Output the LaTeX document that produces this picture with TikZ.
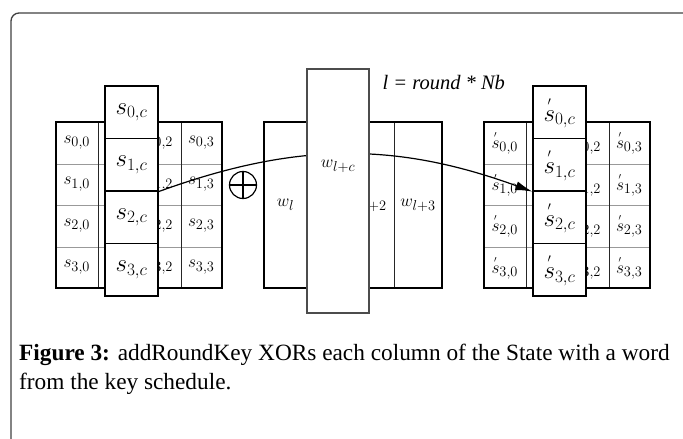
\documentclass[tikz,border=0pt]{standalone}
\usepackage{amsmath}
\usepackage{fontspec}
\setmainfont{Liberation Serif}
\usetikzlibrary{arrows.meta,positioning}
\newcommand\sdash{{\overset{\scriptscriptstyle\prime}{s}}}

\begin{document}
\begin{tikzpicture}[
  x=1pt,y=-1pt,
  >=Latex,
  cell/.style={minimum width=41.5pt,minimum height=41.5pt,inner sep=0pt,font=\fontsize{19}{19}\selectfont},
  hcell/.style={draw=black,line width=1.2pt,fill=white,minimum width=53pt,minimum height=52.5pt,inner sep=0pt,font=\fontsize{25}{25}\selectfont},
  wcell/.style={minimum height=166pt,inner sep=0pt,font=\fontsize{19}{19}\selectfont},
  outer/.style={line width=1.6pt,black},
  rowline/.style={thin,black!40},
  colline/.style={thin,black!85},
  flow/.style={-{Latex[length=17pt,width=9pt]},line width=1.2pt}
]
  \useasboundingbox (0,0) rectangle (683,439);
  \draw[line width=1.3pt,black!75,rounded corners=8pt] (683,13) -| (11,439);

  % state before (column 1 lies under column c)
  \foreach \r in {0,...,3} {
    \node[cell] (L\r0) at (76.75,142.75+41.5*\r) {$s_{\r,0}$};
    \node[cell] (L\r1) at (118.25,142.75+41.5*\r) {};
    \node[cell] (L\r2) at (159.75,142.75+41.5*\r) {$s_{\r,2}$};
    \node[cell] (L\r3) at (201.25,142.75+41.5*\r) {$s_{\r,3}$};
  }
  \foreach \r in {0,1,2} \draw[rowline] (L\r0.south west) -- (L\r3.south east);
  \foreach \c in {0,1,2} \draw[colline] (L0\c.north east) -- (L3\c.south east);
  \draw[outer] (L00.north west) rectangle (L33.south east);

  % state after
  \foreach \r in {0,...,3} {
    \node[cell] (R\r0) at (504.75,142.75+41.5*\r) {$\sdash_{\r,0}$};
    \node[cell] (R\r1) at (546.25,142.75+41.5*\r) {};
    \node[cell] (R\r2) at (587.75,142.75+41.5*\r) {$\sdash_{\r,2}$};
    \node[cell] (R\r3) at (629.25,142.75+41.5*\r) {$\sdash_{\r,3}$};
  }
  \foreach \r in {0,1,2} \draw[rowline] (R\r0.south west) -- (R\r3.south east);
  \foreach \c in {0,1,2} \draw[colline] (R0\c.north east) -- (R3\c.south east);
  \draw[outer] (R00.north west) rectangle (R33.south east);

  % column c
  \foreach \r in {0,...,3} {
    \node[hcell] (Lh\r) at (131.5,112.25+52.5*\r) {$s_{\r,c}$};
    \node[hcell] (Rh\r) at (559.5,112.25+52.5*\r) {$\sdash_{\r,c}$};
  }

  % key schedule words
  \node[wcell,minimum width=43pt] (w0) at (285.5,205) {$w_l$};
  \node[wcell,minimum width=43.5pt] (w1) at (328.75,205) {};
  \node[wcell,minimum width=43.5pt] (w2) at (372.25,205) {};
  \node[wcell,minimum width=48pt] (w3) at (418,205) {$w_{l+3}$};
  \node[font=\fontsize{19}{19}\selectfont,anchor=east,xshift=-4pt] (w2label) at (w2.east) {$w_{l+2}$};
  \draw[colline] (w2.north east) -- (w2.south east);
  \draw[outer] (w0.north west) rectangle (w3.south east);

  \draw[flow] (Lh1.south east) to[bend left=20] (Rh1.south west);

  \node[draw=black!70,line width=1.5pt,fill=white,minimum width=62pt,minimum height=244pt,inner sep=0pt] (wc) at (338,191) {};
  \node[font=\fontsize{19}{19}\selectfont] (wclabel) at (338,166) {$w_{l+c}$};

  \node[circle,draw,line width=1.2pt,minimum size=27pt,inner sep=0pt] (xor) at (243,185) {};
  \draw[line width=1.2pt] (xor.north) -- (xor.south) (xor.west) -- (xor.east);

  \node[anchor=west,font=\fontsize{20.5}{20.5}\selectfont\itshape] (rnd) at (379,83) {l = round * Nb};

  \node[anchor=north west,align=left,inner sep=0pt,font=\fontsize{23.3}{29}\selectfont] (cap) at (19,344) {\textbf{Figure 3:} addRoundKey XORs each column of the State with a word\\from the key schedule.};
\end{tikzpicture}
\end{document}
